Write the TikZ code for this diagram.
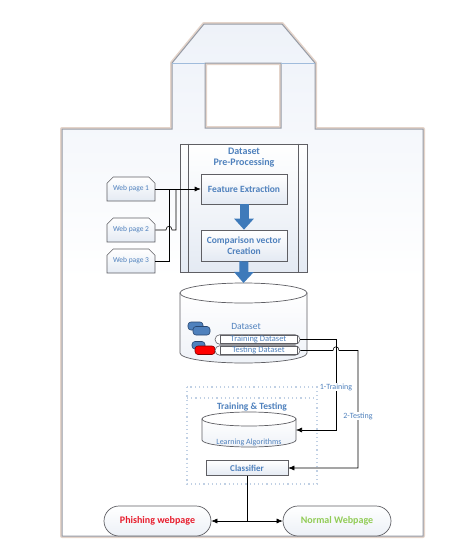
\documentclass[tikz,border=0pt]{standalone}
\usepackage{fontspec}
\setmainfont{Carlito}
\usetikzlibrary{shapes.misc,arrows.meta}

\definecolor{txtblue}{RGB}{79,129,189}
\definecolor{arrowblue}{RGB}{62,122,186}
\definecolor{boxline}{RGB}{95,95,100}
\definecolor{boxfill}{RGB}{228,234,243}
\definecolor{bagline}{RGB}{150,155,165}
\definecolor{bagglow}{RGB}{228,212,202}
\definecolor{bagfill}{RGB}{238,242,249}
\definecolor{handleline}{RGB}{160,188,220}
\definecolor{phishred}{RGB}{232,28,44}
\definecolor{normgreen}{RGB}{146,204,86}
\definecolor{dotline}{RGB}{192,208,228}
\definecolor{pillblue}{RGB}{79,129,189}
\definecolor{pillline}{RGB}{40,70,112}

\begin{document}
\begin{tikzpicture}[x=1pt,y=-1pt,
  box/.style={draw=boxline, line width=0.6pt, top color=white, bottom color=boxfill, text=txtblue, font=\fontsize{9.5}{11}\selectfont\bfseries, align=center, inner sep=1pt},
  webpage/.style={chamfered rectangle, chamfered rectangle corners={north west,north east}, chamfered rectangle xsep=3pt, draw=boxline, line width=0.6pt, top color=white, bottom color=boxfill, text=txtblue, font=\fontsize{7.5}{8}\selectfont, minimum width=48pt, minimum height=24pt, inner sep=1pt},
  endpage/.style={rounded rectangle, draw=boxline, line width=0.7pt, top color=white, bottom color=boxfill!70, font=\fontsize{10}{12}\selectfont\bfseries, minimum height=30pt, inner sep=1pt},
  barout/.style={rounded rectangle, draw=boxline, line width=0.6pt, fill=white, minimum width=85pt, minimum height=9.5pt, inner sep=0pt},
  barin/.style={draw=boxline, line width=0.6pt, fill=white, text=txtblue, font=\fontsize{8.5}{8.5}\selectfont, minimum width=77pt, minimum height=8pt, inner sep=0pt},
  conn/.style={draw=black, line width=0.6pt},
  arr/.style={-{Latex[length=6pt,width=5pt]}},
  blockarrow/.style={draw=arrowblue, line width=9pt, -{Triangle[width=19pt,length=11pt]}},
  lbl/.style={fill=white, text=txtblue, font=\fontsize{8}{9}\selectfont, inner sep=1pt},
  pill/.style={draw=pillline, line width=0.6pt, rounded corners=3pt},
  dotbox/.style={draw=dotline, line width=1.2pt, dash pattern=on 1.2pt off 3pt}]
\useasboundingbox (0,0) rectangle (474,557);

% bag outline
\draw[bagglow, line width=4pt, line join=round] (62,129) -- (172,129) -- (172,63) -- (204,24) -- (282,24) -- (315,63) -- (315,129) -- (423,129) -- (423,536) -- (62,536) -- cycle (205,63) rectangle (281,128);
\path[draw=bagline, line width=1pt, top color=bagfill, bottom color=white, middle color=white, even odd rule] (62,129) -- (172,129) -- (172,63) -- (204,24) -- (282,24) -- (315,63) -- (315,129) -- (423,129) -- (423,536) -- (62,536) -- cycle (205,63) rectangle (281,128);
\draw[handleline, line width=0.6pt] (172,63) -- (205,63) (281,63) -- (315,63);

% pre-processing
\node[box, minimum width=127pt, minimum height=128pt] (prep) at (243.5,208) {};
\draw[boxline, line width=0.6pt] ([xshift=9pt]prep.north west) -- ([xshift=9pt]prep.south west);
\draw[boxline, line width=0.6pt] ([xshift=-9pt]prep.north east) -- ([xshift=-9pt]prep.south east);
\node[text=txtblue, font=\fontsize{10}{11.5}\selectfont\bfseries, align=center] (preptitle) at (244,157.5) {Dataset\\Pre-Processing};
\node[box, minimum width=86pt, minimum height=30pt] (feat) at (244,189) {Feature Extraction};
\node[box, minimum width=86pt, minimum height=31pt] (comp) at (244,245.5) {Comparison vector\\Creation};

\node[webpage] (wp1) at (131,189) {Web page 1};
\node[webpage] (wp2) at (131,230) {Web page 2};
\node[webpage] (wp3) at (131,261) {Web page 3};
\coordinate (join2) at (176,189);
\coordinate (join3) at (169,189);
\draw[conn, arr] (wp1.east) -- (feat.west);
\draw[conn] (wp3.east) -| (join3);
\draw[conn] (wp2.east) -- (166,230) .. controls (166,225) and (172,225) .. (172,230) -| (join2);

% dataset
\draw[draw=boxline, line width=0.7pt, top color=white, bottom color=boxfill!60] (180,293) -- (180,353) arc[start angle=180, end angle=0, x radius=63.5, y radius=10] -- (307,293) -- cycle;
\draw[draw=boxline, line width=0.7pt, fill=white] (243.5,293) ellipse[x radius=63.5, y radius=10];
\coordinate (dbtop) at (243.5,283);
\draw[blockarrow] (feat.south) -- (comp.north);
\draw[blockarrow] (comp.south) -- (dbtop);
\node[text=txtblue, font=\fontsize{9.5}{10}\selectfont] (dataset) at (246,326) {Dataset};
\draw[pill, fill=pillblue] (188,322) rectangle (203,330);
\draw[pill, fill=pillblue] (193,326.5) rectangle (210,335);
\draw[pill, fill=pillblue] (192,341.5) rectangle (205,349);
\draw[pill, fill=red, draw=red!50!black] (195,346) rectangle (215,354.5);
\node[barout] (trainout) at (257.5,339.5) {};
\node[barin] (train) at (258.5,339.5) {Training Dataset};
\node[barout] (testout) at (257.5,350.5) {};
\node[barin] (test) at (258.5,350.5) {Testing Dataset};

% training and testing
\draw[dotbox] (187,387) rectangle (317,484);
\draw[dotbox] (187,398) -- (317,398);
\node[text=txtblue, font=\fontsize{9.5}{11}\selectfont\bfseries] (tttitle) at (252,407) {Training \& Testing};
\draw[draw=boxline, line width=0.7pt, top color=white, bottom color=boxfill!60] (202,419) -- (202,440) arc[start angle=180, end angle=0, x radius=47, y radius=7] -- (296,419) -- cycle;
\draw[draw=boxline, line width=0.7pt, fill=white] (249,419) ellipse[x radius=47, y radius=7];
\node[text=txtblue, font=\fontsize{8}{9}\selectfont] (learn) at (249,442) {Learning Algorithms};
\coordinate (algo) at (296,430);
\node[box, minimum width=82pt, minimum height=15pt, font=\fontsize{9}{10}\selectfont\bfseries] (classifier) at (247,468) {Classifier};

\coordinate (trainx) at (336,430);
\draw[conn, arr] (trainout.east) -| (trainx) -- (algo);
\coordinate (testx) at (358,468);
\draw[conn, arr] (testout.east) -- (333,350.5) .. controls (333,345.5) and (339,345.5) .. (339,350.5) -| (testx) -- (classifier.east);
\node[lbl] (lbltrain) at (336,387) {1-Training};
\node[lbl] (lbltest) at (358,416) {2-Testing};

% results
\node[endpage, minimum width=109pt, text=phishred] (phish) at (157.5,521) {Phishing webpage};
\node[endpage, minimum width=110pt, text=normgreen] (normal) at (337,521) {Normal Webpage};
\coordinate (split) at (247,521);
\draw[conn] (classifier.south) -- (split);
\draw[conn, arr] (split) -- (phish.east);
\draw[conn, arr] (split) -- (normal.west);
\end{tikzpicture}
\end{document}
